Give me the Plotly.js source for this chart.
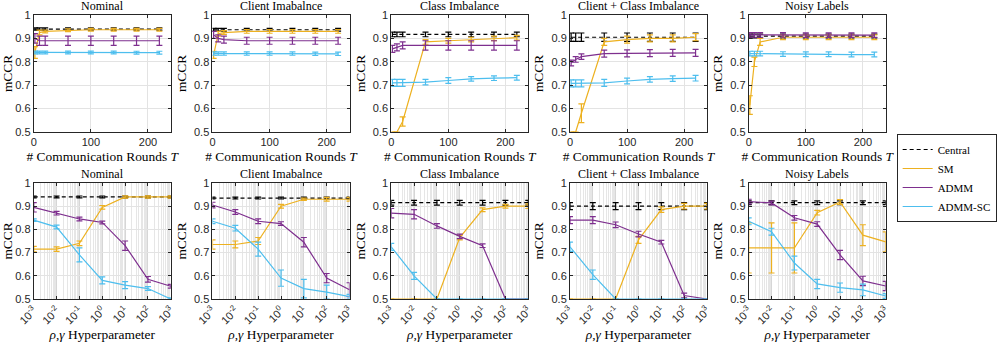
<!DOCTYPE html>
<html>
<head>
<meta charset="utf-8">
<script src="https://cdn.plot.ly/plotly-3.0.1.min.js"></script>
<style>
html, body { margin: 0; padding: 0; background: #fff; }
#plot { width: 997px; height: 346px; }
</style>
</head>
<body>
<div id="plot"></div>
<script>
const panelTitles = ["Nominal", "Client Imabalnce", "Class Imbalance", "Client + Class Imbalance", "Noisy Labels"];
const methods = ["Central", "SM", "ADMM", "ADMM-SC"];

// top row: communication rounds
const rounds = [2, 10, 20, 60, 100, 140, 180, 220];
const roundsCentral = [
    [0.94, 0.94, 0.94, 0.94, 0.94, 0.94, 0.94, 0.94],
    [0.937, 0.937, 0.937, 0.937, 0.937, 0.937, 0.937, 0.937],
    [0.917, 0.917, 0.917, 0.917, 0.917, 0.917, 0.917, 0.917],
    [0.905, 0.905, 0.905, 0.905, 0.905, 0.905, 0.905, 0.905],
    [0.91, 0.91, 0.91, 0.91, 0.91, 0.91, 0.91, 0.91]
];
const roundsCentralErr = [
    [0.005, 0.005, 0.005, 0.005, 0.005, 0.005, 0.005, 0.005],
    [0.006, 0.006, 0.006, 0.006, 0.006, 0.006, 0.006, 0.006],
    [0.01, 0.01, 0.01, 0.01, 0.01, 0.01, 0.01, 0.01],
    [0.018, 0.018, 0.018, 0.018, 0.018, 0.018, 0.018, 0.018],
    [0.008, 0.008, 0.008, 0.008, 0.008, 0.008, 0.008, 0.008]
];
const roundsSM = [
    [0.84, 0.925, 0.93, 0.935, 0.937, 0.937, 0.937, 0.937],
    [0.83, 0.92, 0.925, 0.93, 0.93, 0.93, 0.93, 0.93],
    [0.5, 0.5, 0.545, 0.885, 0.89, 0.895, 0.9, 0.903],
    [0.5, 0.5, 0.58, 0.885, 0.895, 0.9, 0.9, 0.905],
    [0.615, 0.8, 0.885, 0.905, 0.905, 0.905, 0.905, 0.905]
];
const roundsSMErr = [
    [0.025, 0.01, 0.006, 0.006, 0.006, 0.006, 0.006, 0.006],
    [0.015, 0.01, 0.008, 0.008, 0.008, 0.008, 0.008, 0.008],
    [0, 0, 0.02, 0.01, 0.01, 0.01, 0.01, 0.01],
    [0, 0, 0.04, 0.015, 0.015, 0.015, 0.015, 0.015],
    [0.04, 0.02, 0.015, 0.01, 0.01, 0.01, 0.01, 0.01]
];
const roundsADMM = [
    [0.9, 0.89, 0.89, 0.89, 0.89, 0.89, 0.89, 0.89],
    [0.915, 0.9, 0.895, 0.89, 0.89, 0.89, 0.89, 0.89],
    [0.855, 0.862, 0.87, 0.87, 0.87, 0.87, 0.87, 0.87],
    [0.795, 0.81, 0.822, 0.835, 0.836, 0.837, 0.838, 0.838],
    [0.915, 0.915, 0.915, 0.915, 0.914, 0.914, 0.914, 0.914]
];
const roundsADMMErr = [
    [0.02, 0.02, 0.02, 0.02, 0.02, 0.02, 0.02, 0.02],
    [0.015, 0.015, 0.015, 0.015, 0.015, 0.015, 0.015, 0.015],
    [0.015, 0.015, 0.015, 0.02, 0.02, 0.02, 0.02, 0.02],
    [0.012, 0.012, 0.012, 0.015, 0.015, 0.015, 0.015, 0.015],
    [0.01, 0.01, 0.01, 0.01, 0.01, 0.01, 0.01, 0.01]
];
const roundsADMMSC = [
    [0.84, 0.84, 0.84, 0.84, 0.84, 0.84, 0.839, 0.839],
    [0.835, 0.835, 0.835, 0.835, 0.835, 0.835, 0.834, 0.834],
    [0.71, 0.71, 0.71, 0.713, 0.72, 0.727, 0.73, 0.732],
    [0.708, 0.708, 0.708, 0.71, 0.718, 0.725, 0.728, 0.73],
    [0.835, 0.835, 0.835, 0.833, 0.832, 0.832, 0.831, 0.831]
];
const roundsADMMSCErr = [
    [0.006, 0.006, 0.006, 0.006, 0.006, 0.006, 0.006, 0.006],
    [0.007, 0.007, 0.007, 0.007, 0.007, 0.007, 0.007, 0.007],
    [0.015, 0.015, 0.015, 0.012, 0.012, 0.01, 0.01, 0.01],
    [0.015, 0.015, 0.015, 0.015, 0.012, 0.012, 0.012, 0.012],
    [0.01, 0.01, 0.01, 0.01, 0.01, 0.01, 0.01, 0.01]
];

// bottom row: hyperparameter sweep
const hyper = [0.001, 0.01, 0.1, 1, 10, 100, 1000];
const hyperLabels = ["10<sup>-3</sup>", "10<sup>-2</sup>", "10<sup>-1</sup>", "10<sup>0</sup>", "10<sup>1</sup>", "10<sup>2</sup>", "10<sup>3</sup>"];
const hyperCentral = [
    [0.94, 0.94, 0.94, 0.94, 0.94, 0.94, 0.94],
    [0.935, 0.935, 0.935, 0.935, 0.935, 0.935, 0.935],
    [0.915, 0.915, 0.915, 0.915, 0.915, 0.915, 0.915],
    [0.9, 0.9, 0.9, 0.9, 0.9, 0.9, 0.9],
    [0.915, 0.915, 0.915, 0.915, 0.915, 0.915, 0.915]
];
const hyperCentralErr = [
    [0.004, 0.004, 0.004, 0.004, 0.004, 0.004, 0.004],
    [0.004, 0.004, 0.004, 0.004, 0.004, 0.004, 0.004],
    [0.01, 0.01, 0.01, 0.01, 0.01, 0.01, 0.01],
    [0.015, 0.015, 0.015, 0.015, 0.015, 0.015, 0.015],
    [0.008, 0.008, 0.008, 0.008, 0.008, 0.008, 0.008]
];
const hyperSM = [
    [0.715, 0.715, 0.74, 0.895, 0.94, 0.94, 0.94],
    [0.735, 0.735, 0.75, 0.9, 0.93, 0.93, 0.93],
    [0.5, 0.5, 0.5, 0.765, 0.885, 0.9, 0.9],
    [0.5, 0.5, 0.5, 0.755, 0.885, 0.9, 0.9],
    [0.72, 0.72, 0.72, 0.872, 0.918, 0.775, 0.746]
];
const hyperSMErr = [
    [0.012, 0.01, 0.01, 0.008, 0.005, 0.005, 0.005],
    [0.02, 0.015, 0.015, 0.008, 0.005, 0.008, 0.008],
    [0, 0, 0, 0.01, 0.008, 0.008, 0.01],
    [0, 0, 0, 0.015, 0.012, 0.012, 0.012],
    [0.108, 0.108, 0.108, 0.01, 0.01, 0.045, 0.043]
];
const hyperADMM = [
    [0.895, 0.87, 0.845, 0.83, 0.73, 0.585, 0.555],
    [0.905, 0.875, 0.835, 0.825, 0.745, 0.59, 0.54],
    [0.87, 0.865, 0.815, 0.77, 0.73, 0.5, 0.5],
    [0.84, 0.84, 0.82, 0.78, 0.745, 0.515, 0.5],
    [0.92, 0.914, 0.85, 0.823, 0.69, 0.578, 0.556]
];
const hyperADMMErr = [
    [0.02, 0.008, 0.008, 0.006, 0.02, 0.012, 0.008],
    [0.012, 0.01, 0.01, 0.008, 0.02, 0.02, 0.03],
    [0.02, 0.02, 0.01, 0.01, 0.008, 0, 0],
    [0.015, 0.015, 0.012, 0.012, 0.008, 0.01, 0],
    [0.01, 0.008, 0.01, 0.01, 0.02, 0.02, 0.02]
];
const hyperADMMSC = [
    [0.84, 0.81, 0.69, 0.58, 0.56, 0.545, 0.5],
    [0.835, 0.805, 0.715, 0.59, 0.545, 0.53, 0.51],
    [0.725, 0.6, 0.5, 0.5, 0.5, 0.5, 0.5],
    [0.725, 0.605, 0.5, 0.5, 0.5, 0.5, 0.5],
    [0.835, 0.79, 0.655, 0.565, 0.549, 0.539, 0.513]
];
const hyperADMMSCErr = [
    [0.005, 0.008, 0.03, 0.015, 0.015, 0.008, 0.005],
    [0.01, 0.012, 0.03, 0.035, 0.04, 0.03, 0.01],
    [0.015, 0.015, 0, 0, 0, 0, 0],
    [0.02, 0.02, 0, 0, 0, 0, 0],
    [0.015, 0.015, 0.03, 0.02, 0.02, 0.025, 0.01]
];

const yTicks = [0.5, 0.6, 0.7, 0.8, 0.9, 1];
const yTickText = ["0.5", "0.6", "0.7", "0.8", "0.9", "1"];

const colors = ["#000000", "#EDB120", "#7E2F8E", "#4DBEEE"];
const W = 997;
const H = 346;
const columnPx = [[34, 172], [214, 352], [394, 532], [574, 712], [754, 892]];
const rowPx = [[15, 132], [183, 299]];

const serif = "Liberation Serif";
const sans = "Liberation Sans";
const axisColor = "#262626";

const topSeries = [
    [roundsCentral, roundsCentralErr],
    [roundsSM, roundsSMErr],
    [roundsADMM, roundsADMMErr],
    [roundsADMMSC, roundsADMMSCErr]
];
const bottomSeries = [
    [hyperCentral, hyperCentralErr],
    [hyperSM, hyperSMErr],
    [hyperADMM, hyperADMMErr],
    [hyperADMMSC, hyperADMMSCErr]
];

const traces = [];
const layout = {
    width: W,
    height: H,
    margin: { l: 0, r: 0, t: 0, b: 0 },
    paper_bgcolor: "#ffffff",
    plot_bgcolor: "#ffffff",
    // serif for titles and labels; tick labels get sans below
    font: { family: serif, size: 11.3, color: "#000000" },
    showlegend: true,
    legend: {
        x: 903 / W,
        y: 1 - 134 / H,
        xanchor: "left",
        yanchor: "top",
        bgcolor: "#ffffff",
        bordercolor: axisColor,
        borderwidth: 1,
        font: { family: serif, size: 11, color: "#000000" },
        itemwidth: 30,
        tracegroupgap: 0
    },
    annotations: []
};

function axisBase() {
    return {
        showline: true,
        mirror: "ticks",
        linecolor: axisColor,
        linewidth: 1,
        ticks: "inside",
        ticklen: 3,
        tickcolor: axisColor,
        showgrid: true,
        gridcolor: "#e3e3e3",
        zeroline: false,
        tickfont: { family: sans, size: 11, color: axisColor }
    };
}

function titleFont() {
    return { family: serif, size: 13.4, color: "#000000" };
}

for (let row = 0; row < 2; row += 1) {
    for (let p = 0; p < 5; p += 1) {
        const k = row * 5 + p + 1;
        const suffix = k === 1 ? "" : String(k);
        const xs = row === 0 ? rounds : hyper;
        const series = row === 0 ? topSeries : bottomSeries;

        series.forEach(([vals, errs], m) => {
            traces.push({
                x: xs,
                y: vals[p],
                type: "scatter",
                mode: "lines",
                name: methods[m],
                showlegend: k === 1,
                xaxis: "x" + suffix,
                yaxis: "y" + suffix,
                line: { color: colors[m], width: 1.2, dash: m === 0 ? "4px,3px" : "solid" },
                error_y: { type: "data", array: errs[p], visible: true, color: colors[m], thickness: 1.2, width: 3 }
            });
        });

        const xDom = [columnPx[p][0] / W, columnPx[p][1] / W];
        const yDom = [1 - rowPx[row][1] / H, 1 - rowPx[row][0] / H];

        const xa = axisBase();
        xa.domain = xDom;
        xa.anchor = "y" + suffix;
        if (row === 0) {
            xa.range = [0, 240];
            xa.tickvals = [0, 100, 200];
            xa.ticktext = ["0", "100", "200"];
            xa.title = { text: "# Communication Rounds <i>T</i>", font: titleFont(), standoff: 4 };
        } else {
            xa.type = "log";
            xa.range = [-3, 3];
            xa.tickvals = hyper;
            xa.ticktext = hyperLabels;
            xa.tickangle = -45;
            xa.gridcolor = "#d6d6d6";
            xa.minor = { dtick: "D1", showgrid: true, gridcolor: "#e6e6e6", gridwidth: 1, ticks: "" };
            xa.title = { text: "<i>ρ</i>,<i>γ</i> Hyperparameter", font: titleFont(), standoff: 4 };
        }

        const ya = axisBase();
        ya.domain = yDom;
        ya.anchor = "x" + suffix;
        ya.range = [0.5, 1];
        ya.tickvals = yTicks;
        ya.ticktext = yTickText;
        ya.title = { text: "mCCR", font: titleFont(), standoff: 4 };

        layout["xaxis" + suffix] = xa;
        layout["yaxis" + suffix] = ya;

        layout.annotations.push({
            text: panelTitles[p],
            xref: "paper",
            yref: "paper",
            x: (xDom[0] + xDom[1]) / 2,
            y: yDom[1],
            xanchor: "center",
            yanchor: "bottom",
            showarrow: false,
            font: { family: serif, size: 12, color: "#000000" }
        });
    }
}

Plotly.newPlot("plot", traces, layout, { displayModeBar: false, staticPlot: true });
</script>
</body>
</html>
